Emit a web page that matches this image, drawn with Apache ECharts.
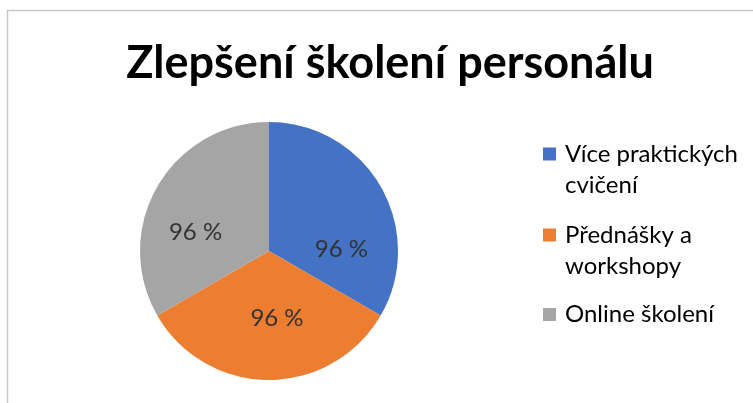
<!DOCTYPE html>
<html>
<head>
<meta charset="utf-8">
<script src="https://cdn.jsdelivr.net/npm/echarts@6/dist/echarts.min.js"></script>
<style>
  html, body { margin: 0; padding: 0; background: #fff; }
  #chart { width: 753px; height: 403px; }
</style>
</head>
<body>
<div id="chart"></div>
<script>
const titleText = 'Zlepšení školení personálu'
const categories = ['Více praktických cvičení', 'Přednášky a workshopy', 'Online školení']
const legendLabels = ['Více praktických\ncvičení', 'Přednášky a\nworkshopy', 'Online školení']
const values = [96, 96, 96]
const colors = ['#4472C4', '#ED7D31', '#A5A5A5']

const font = "Lato, 'Liberation Sans', sans-serif"
// label nudges to mimic Excel's best-fit placement
const labelShift = [[14, 32], [8, 0], [-15, 15]]
// legend box tops (one legend per entry so the marker sits on the first line)
const legendTops = [107.5, 188.5, 299]

const chart = echarts.init(document.getElementById('chart'))
chart.setOption({
  animation: false,
  color: colors,
  title: {
    text: titleText,
    left: 385,
    textAlign: 'center',
    top: 36,
    textStyle: { fontFamily: font, fontSize: 45, fontWeight: 'bold', color: '#000' }
  },
  legend: categories.map((name, i) => ({
    orient: 'vertical',
    left: 543,
    top: legendTops[i],
    padding: 0,
    icon: 'rect',
    itemWidth: 13,
    itemHeight: 13,
    data: [name],
    // a blank first line keeps the marker level with the first text line
    formatter: n => {
      const t = legendLabels[categories.indexOf(n)]
      return t.indexOf('\n') >= 0 ? '\n' + t : t
    },
    textStyle: {
      fontFamily: font, fontSize: 24, lineHeight: 31, color: '#000',
      padding: [0, 0, 0, 4]
    }
  })),
  graphic: [{
    type: 'rect',
    shape: { x: 7.5, y: 10.5, width: 800, height: 500 },
    style: { fill: 'none', stroke: '#c8c8c8', lineWidth: 1.5 },
    silent: true
  }],
  series: [{
    type: 'pie',
    center: [269, 251],
    radius: 129,
    startAngle: 90,
    label: {
      position: 'inside',
      formatter: '{c} %',
      fontFamily: font,
      fontSize: 24,
      color: '#333'
    },
    labelLayout: p => ({ dx: labelShift[p.dataIndex][0], dy: labelShift[p.dataIndex][1] }),
    labelLine: { show: false },
    itemStyle: { borderWidth: 0 },
    data: categories.map((name, i) => ({ name, value: values[i] }))
  }]
})
</script>
</body>
</html>
